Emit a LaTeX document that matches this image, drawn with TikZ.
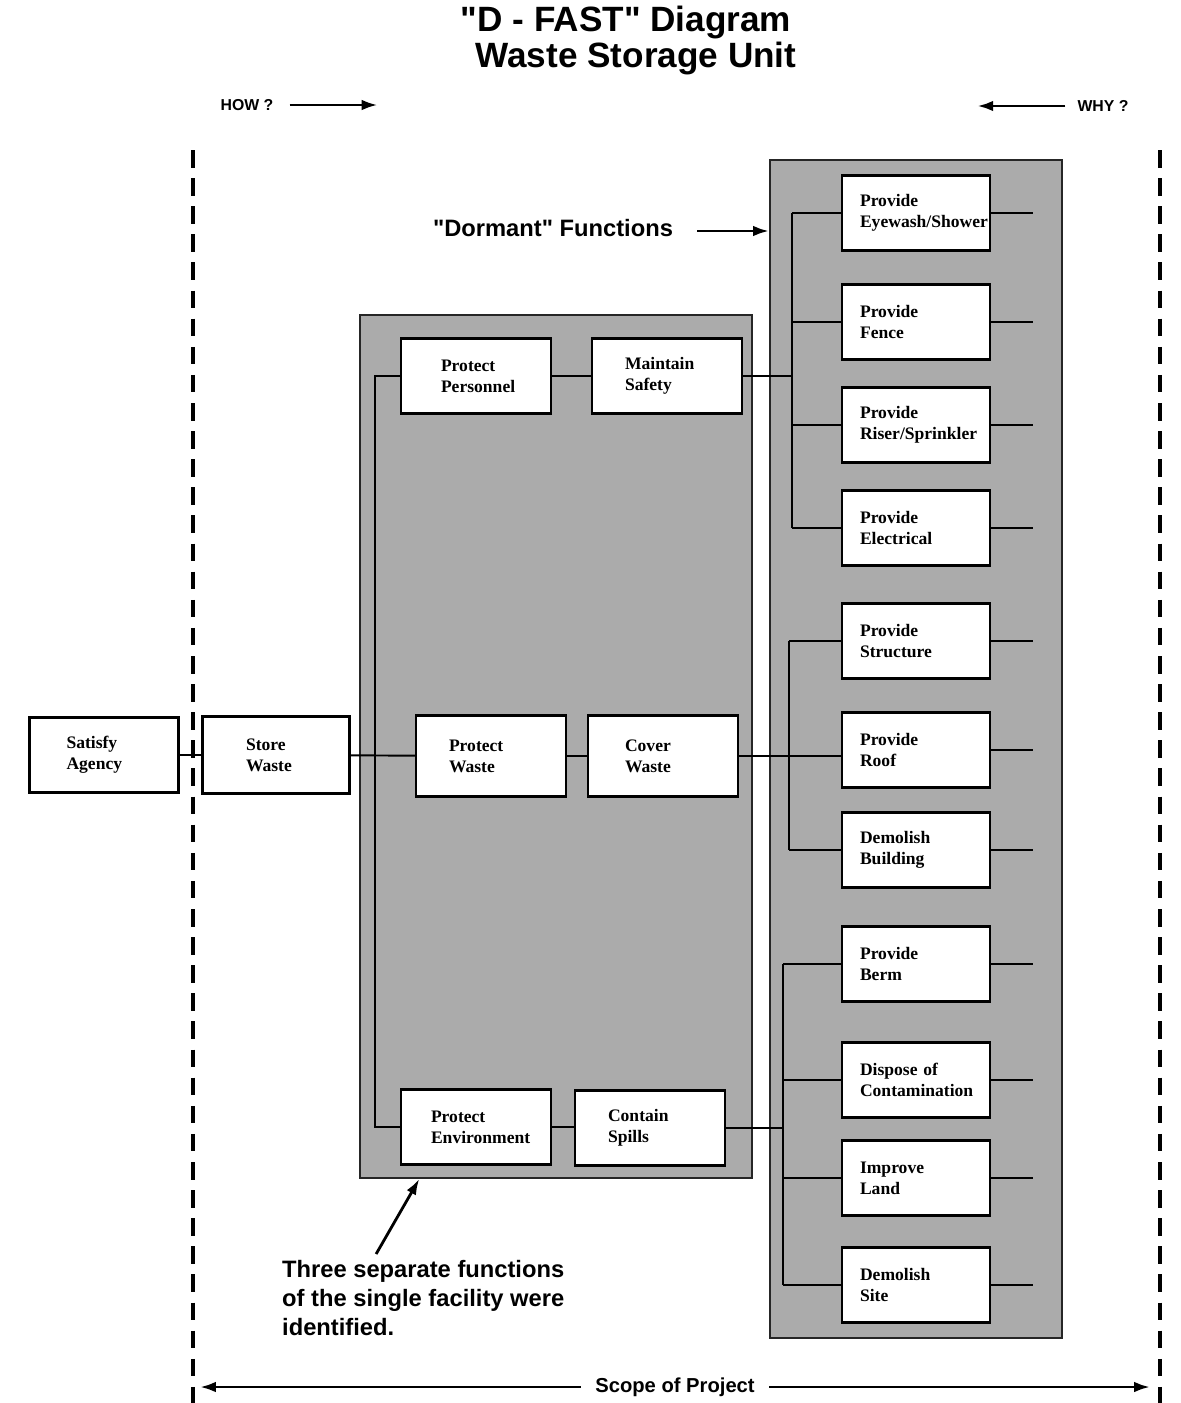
\documentclass[tikz,border=0pt]{standalone}
\usepackage{fontspec}
\setmainfont{Liberation Serif}
\setsansfont{Liberation Sans}
\usetikzlibrary{positioning}
\usetikzlibrary{arrows}
\usetikzlibrary{arrows.meta}
\usetikzlibrary{shapes}
\usetikzlibrary{calc}

\begin{document}
\begin{tikzpicture}[x=0.02cm, y=-0.02cm, >={Latex[length=9pt,width=6pt]}]

\tikzset{%
    every function/.style = {
        draw,
        line width=1.3pt,
        fill=white,
        minimum height=1.5cm,
        align=left,
        font=\rmfamily\bfseries\fontsize{10}{12}\selectfont
    },
    right function/.style = {
        every function,
        text width=2.24cm,
        inner xsep=0.36cm
    },
    left function/.style = {
        every function,
        text width=1.68cm,
        inner xsep=0.66cm
    },
    panel/.style = {
        draw=black!85,
        line width=1.2pt,
        fill=black!33
    },
    link/.style = {line width=1.1pt},
    scope line/.style = {line width=2.2pt, dash pattern=on 10pt off 6pt},
    pointer/.style = {->, line width=1.6pt},
    remark/.style = {font=\sffamily\bfseries\fontsize{13.5}{16.5}\selectfont}
}

\useasboundingbox (0,0) rectangle (1180,1403);

% title
\node [font=\sffamily\bfseries\fontsize{20}{22}\selectfont] (title-1) at (626,22) {\textquotedbl D - FAST\textquotedbl\ Diagram};
\node [font=\sffamily\bfseries\fontsize{20}{22}\selectfont] (title-2) at (636,58) {Waste Storage Unit};

% how / why
\node [font=\sffamily\bfseries\fontsize{9}{10}\selectfont] (how) at (247,105) {HOW ?};
\draw [pointer] (how.east) ++(10,0) -- ++(88,0);
\node [font=\sffamily\bfseries\fontsize{9}{10}\selectfont] (why) at (1103,106) {WHY ?};
\draw [pointer] (why.west) ++(-6,0) -- ++(-88,0);

% scope of project
\coordinate (left-top) at (193,150);
\coordinate (left-bottom) at (193,1403);
\coordinate (right-top) at (1160,150);
\coordinate (right-bottom) at (1160,1403);
\draw [scope line] (left-top) -- (left-bottom);
\draw [scope line] (right-top) -- (right-bottom);
\coordinate (scope-l) at (200,1387);
\coordinate (scope-r) at (1150,1387);
\draw [pointer, <->] (scope-l) -- (scope-r)
  node [midway, fill=white, inner xsep=8pt, font=\sffamily\bfseries\fontsize{11.5}{13}\selectfont] (scope) {Scope of Project};

% shaded panels
\node [panel, minimum width=5.84cm, minimum height=23.56cm] (dormant) at (916,749) {};
\node [panel, minimum width=7.84cm, minimum height=17.26cm] (facility) at (556,746.5) {};

% left and middle functions
\node [left function, text width=1.5cm, inner xsep=0.74cm] (agency) at (104,755) {Satisfy\\Agency};
\node [left function, text width=1.2cm, inner xsep=0.87cm, minimum height=1.54cm] (store) at (276,755) {Store\\Waste};
\node [left function, text width=1.4cm, inner xsep=0.8cm] (protect-p) at (476,376) {Protect\\Personnel};
\node [left function] (maintain) at (667,376) {Maintain\\Safety};
\node [left function, minimum height=1.62cm] (protect-w) at (491,756) {Protect\\Waste};
\node [left function, text width=1.52cm, inner xsep=0.74cm, minimum height=1.62cm] (cover) at (663,756) {Cover\\Waste};
\node [left function, text width=1.8cm, inner xsep=0.6cm] (protect-e) at (476,1127) {Protect\\Environment};
\node [left function] (contain) at (650,1128) {Contain\\Spills};

% dormant functions
\foreach \n/\y/\l in {eyewash/213/{Provide\\Eyewash/Shower},
                      fence/322/{Provide\\Fence},
                      riser/425/{Provide\\Riser/Sprinkler},
                      electrical/528/{Provide\\Electrical},
                      structure/641/{Provide\\Structure},
                      roof/750/{Provide\\Roof},
                      demolish-b/850/{Demolish\\Building},
                      berm/964/{Provide\\Berm},
                      dispose/1080/{Dispose of\\Contamination},
                      improve/1178/{Improve\\Land},
                      demolish-s/1285/{Demolish\\Site}}
  \node [right function] (\n) at (916,\y) {\l};

% connections
\coordinate (bus-mid) at (375,0);
\coordinate (bus-a) at (792,0);
\coordinate (bus-b) at (789,0);
\coordinate (bus-c) at (783,0);

\draw [link] (agency) -- (store);
\draw [link] (store) -- (protect-w);
\draw [link] (protect-p.west) -- (protect-p.west -| bus-mid) -- (protect-e.west -| bus-mid) -- (protect-e.west);
\draw [link] (protect-p) -- (maintain);
\draw [link] (protect-w) -- (cover);
\draw [link] (protect-e.east) -- (protect-e.east -| contain.west);

\draw [link] (maintain.east) -- (maintain.east -| bus-a);
\draw [link] (eyewash.west -| bus-a) -- (electrical.west -| bus-a);
\foreach \n in {eyewash,fence,riser,electrical}
  \draw [link] (\n.west -| bus-a) -- (\n.west);

\draw [link] (cover.east) -- (cover.east -| roof.west);
\draw [link] (structure.west -| bus-b) -- (demolish-b.west -| bus-b);
\foreach \n in {structure,demolish-b}
  \draw [link] (\n.west -| bus-b) -- (\n.west);

\draw [link] (contain.east) -- (contain.east -| bus-c);
\draw [link] (berm.west -| bus-c) -- (demolish-s.west -| bus-c);
\foreach \n in {berm,dispose,improve,demolish-s}
  \draw [link] (\n.west -| bus-c) -- (\n.west);

\foreach \n in {eyewash,fence,riser,electrical,structure,roof,demolish-b,berm,dispose,improve,demolish-s}
  \draw [link] (\n.east) -- ++(42,0);

% remarks
\node [remark] (dormant-label) at (553,228) {\textquotedbl Dormant\textquotedbl\ Functions};
\draw [pointer] (dormant-label.east) ++(18,3) -- (dormant.west |- 0,231);

\node [remark, anchor=north west, align=left] (note) at (276,1254)
  {Three separate functions\\of the single facility were\\identified.};
\draw [pointer] ($(note.north west)!0.34!(note.north east)$) -- ($(facility.south west)!0.153!(facility.south east)$);

\end{tikzpicture}
\end{document}
